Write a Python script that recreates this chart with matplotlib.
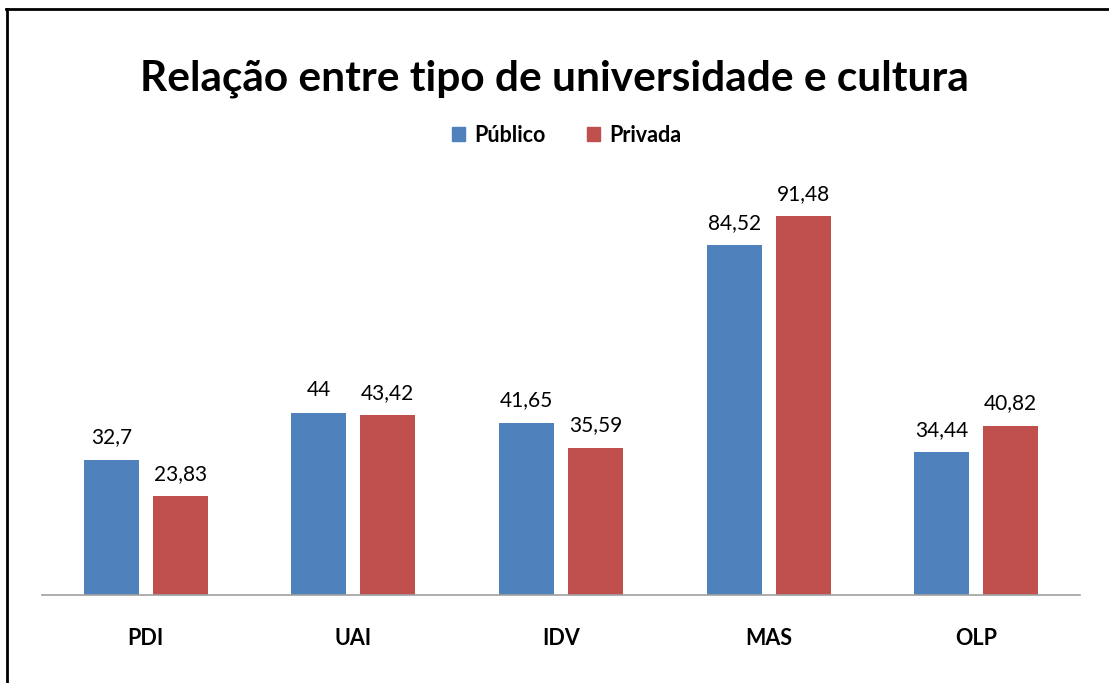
import numpy as np
import matplotlib.pyplot as plt
from matplotlib.lines import Line2D
from matplotlib.patches import Patch

categorias = ['PDI', 'UAI', 'IDV', 'MAS', 'OLP']
publico = [32.7, 44, 41.65, 84.52, 34.44]
privada = [23.83, 43.42, 35.59, 91.48, 40.82]
rotulos_publico = ['32,7', '44', '41,65', '84,52', '34,44']
rotulos_privada = ['23,83', '43,42', '35,59', '91,48', '40,82']

azul = '#4F81BD'
vermelho = '#C0504D'

plt.rcParams['font.family'] = ['Lato', 'DejaVu Sans']

fig = plt.figure(figsize=(11.09, 6.83), dpi=100)
ax = fig.add_axes([42 / 1109, 88 / 683, 1038 / 1109, 414 / 683])

x = np.arange(len(categorias))
largura = 0.265
desloc = 0.166

b1 = ax.bar(x - desloc, publico, largura, color=azul, label='Público')
b2 = ax.bar(x + desloc, privada, largura, color=vermelho, label='Privada')

for rect, txt in zip(b1, rotulos_publico):
    ax.text(rect.get_x() + rect.get_width() / 2, rect.get_height() + 3.0, txt,
            ha='center', va='bottom', fontsize=15)
for rect, txt in zip(b2, rotulos_privada):
    ax.text(rect.get_x() + rect.get_width() / 2, rect.get_height() + 3.0, txt,
            ha='center', va='bottom', fontsize=15)

ax.set_xlim(-0.5, len(categorias) - 0.5)
ax.set_ylim(0, 100)
ax.set_xticks(x)
ax.set_xticklabels(categorias, fontsize=15.5, fontweight='bold')
ax.tick_params(axis='x', length=0, pad=24)
ax.set_yticks([])
for s in ['top', 'right', 'left']:
    ax.spines[s].set_visible(False)
ax.spines['bottom'].set_color('#A0A0A0')
ax.spines['bottom'].set_linewidth(1.2)

fig.text(0.5, 1 - 79 / 683, 'Relação entre tipo de universidade e cultura',
         ha='center', va='center', fontsize=30.5, fontweight='bold')

handles = [Patch(color=azul), Patch(color=vermelho)]
fig.legend(handles, ['Público', 'Privada'], loc='center',
           bbox_to_anchor=(0.511, 1 - 135 / 683), ncol=2, frameon=False,
           prop={'weight': 'bold', 'size': 15.5}, handlelength=0.6,
           handleheight=0.6, handletextpad=0.45, columnspacing=1.9)

# moldura (só esquerda e topo visíveis)
fig.add_artist(Line2D([7 / 1109, 7 / 1109], [0, 1 - 9 / 683],
                      color='black', linewidth=2, transform=fig.transFigure))
fig.add_artist(Line2D([6 / 1109, 1], [1 - 9 / 683, 1 - 9 / 683],
                      color='black', linewidth=2, transform=fig.transFigure))

fig.savefig('out.png', dpi=100)
